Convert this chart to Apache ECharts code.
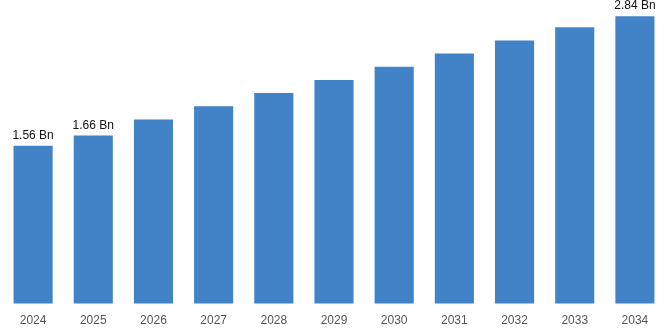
<!DOCTYPE html>
<html>
<head>
<meta charset="utf-8">
<script src="https://cdn.jsdelivr.net/npm/echarts@6/dist/echarts.min.js"></script>
<style>
  html, body { margin: 0; padding: 0; background: #ffffff; }
  #chart { width: 668px; height: 334px; }
</style>
</head>
<body>
<div id="chart"></div>
<script>
// Market size by year, in billions
const years = ['2024', '2025', '2026', '2027', '2028', '2029', '2030', '2031', '2032', '2033', '2034'];
const values = [1.56, 1.66, 1.82, 1.95, 2.08, 2.21, 2.34, 2.47, 2.60, 2.73, 2.84];
// Years whose bars carry a value label
const labelledYears = ['2024', '2025', '2034'];

const chart = echarts.init(document.getElementById('chart'));

const barData = values.map((v, i) => ({
  value: v,
  label: {
    show: labelledYears.includes(years[i]),
    formatter: (p) => p.value.toFixed(2) + ' Bn'
  }
}));

chart.setOption({
  animation: false,
  grid: { left: 3, right: 3, top: 0, bottom: 30.5, containLabel: false },
  xAxis: {
    type: 'category',
    data: years,
    axisLine: { show: false },
    axisTick: { show: false },
    axisLabel: {
      color: '#555555',
      fontSize: 12,
      fontFamily: 'Liberation Sans, Arial, sans-serif',
      margin: 11
    }
  },
  yAxis: {
    type: 'value',
    min: 0,
    max: 3,
    show: false,
    splitLine: { show: false }
  },
  series: [{
    type: 'bar',
    data: barData,
    barCategoryGap: '35%',
    itemStyle: { color: '#4282c6' },
    label: {
      position: 'top',
      distance: 4,
      color: '#111111',
      fontSize: 12,
      fontFamily: 'Liberation Sans, Arial, sans-serif'
    }
  }]
});
</script>
</body>
</html>
